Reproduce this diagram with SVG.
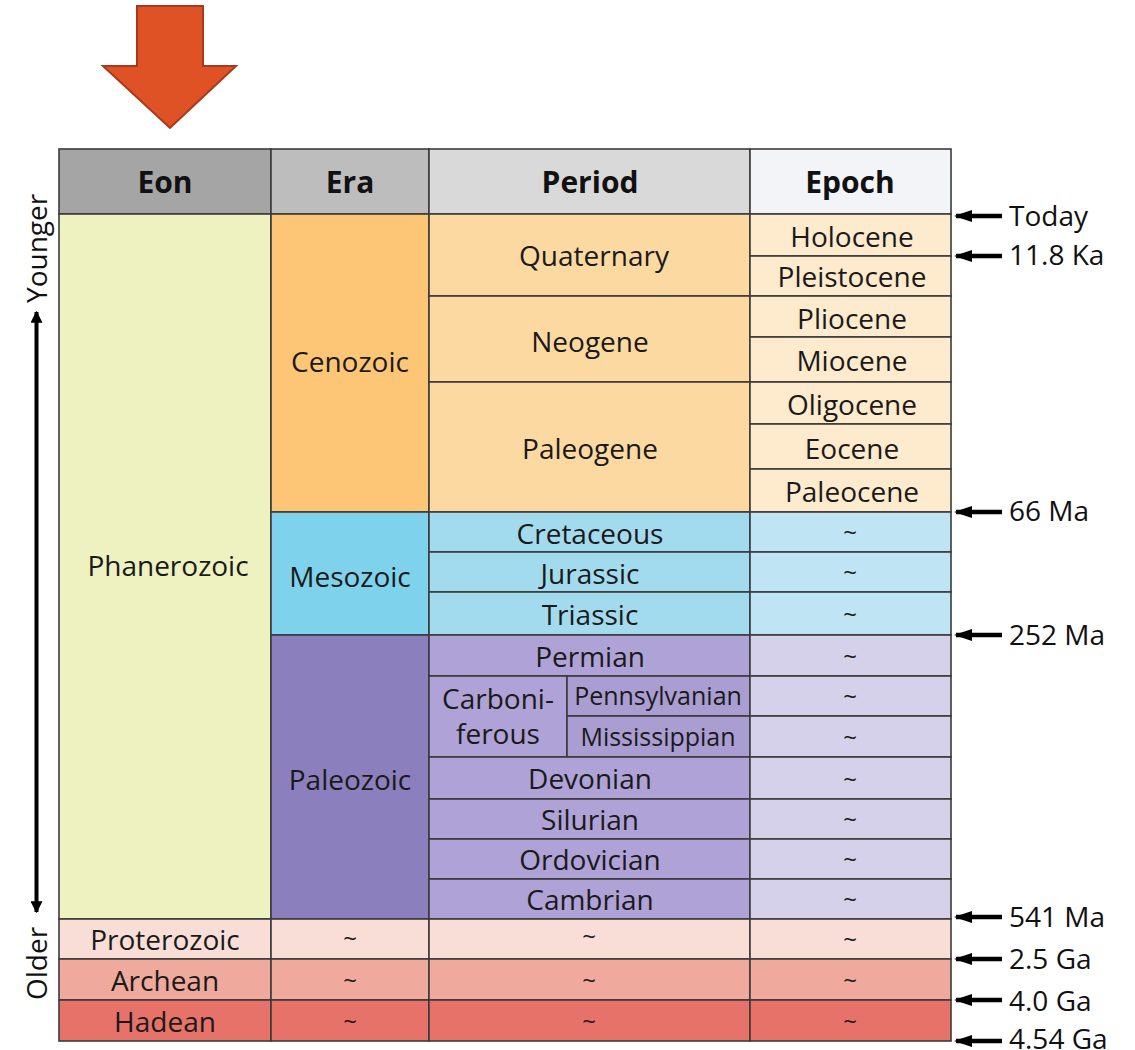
<svg xmlns="http://www.w3.org/2000/svg" width="1135" height="1050" viewBox="0 0 1135 1050">
<defs>
<style>
text{font-family:"Open Sans","Noto Sans","DejaVu Sans",sans-serif;fill:#1a1a1a}
.h{font-size:30px;font-weight:bold;text-anchor:middle;fill:#111}
.t{font-size:28px;text-anchor:middle}
.s{font-size:25px;text-anchor:middle}
.tl{font-size:24px;text-anchor:middle}
.lab{font-size:28px;fill:#111}
.c{stroke:#3b3b3b;stroke-width:1.6}
.axis{stroke:#000;stroke-width:4;fill:none}
.tick{stroke:#000;stroke-width:4.5;fill:none}
</style>
<marker id="ah" viewBox="0 0 18 14" refX="16" refY="7" markerWidth="18" markerHeight="14" markerUnits="userSpaceOnUse" orient="auto">
<path d="M0,1 L18,7 L0,13 Z" fill="#000"/>
</marker>
<marker id="ax" viewBox="0 0 10 10" refX="9" refY="5" markerWidth="6" markerHeight="3" markerUnits="strokeWidth" orient="auto-start-reverse">
<path d="M0,0 L10,5 L0,10 Z" fill="#000"/>
</marker>
</defs>
<rect width="1135" height="1050" fill="#fff"/>

<g id="orange-arrow">
<polygon points="137,6 203,6 203,66 236,66 170,128 103,66 137,66" fill="#df5226" stroke="#a8391a" stroke-width="2"/>
</g>

<g id="header">
<rect class="c" x="59" y="149" width="212" height="65" fill="#a5a5a5"/>
<rect class="c" x="271" y="149" width="158" height="65" fill="#bebdbe"/>
<rect class="c" x="429" y="149" width="321" height="65" fill="#d9d9d9"/>
<rect class="c" x="750" y="149" width="201" height="65" fill="#f2f4f7"/>
<text class="h" x="165" y="193">Eon</text>
<text class="h" x="350" y="193">Era</text>
<text class="h" x="590" y="193">Period</text>
<text class="h" x="850" y="193">Epoch</text>
</g>

<g id="eon-phanerozoic">
<rect class="c" x="59" y="214" width="212" height="705" fill="#eef2c1"/>
<text class="t" x="168" y="576">Phanerozoic</text>
</g>
<g id="eon-proterozoic">
<rect class="c" x="59" y="919" width="212" height="40" fill="#f9ddd7"/>
<text class="t" x="165" y="950">Proterozoic</text>
</g>
<g id="eon-archean">
<rect class="c" x="59" y="959" width="212" height="41" fill="#f0a99d"/>
<text class="t" x="165" y="991">Archean</text>
</g>
<g id="eon-hadean">
<rect class="c" x="59" y="1000" width="212" height="41" fill="#e7726a"/>
<text class="t" x="165" y="1032">Hadean</text>
</g>

<g id="era-cenozoic">
<rect class="c" x="271" y="214" width="158" height="298" fill="#fdc677"/>
<text class="t" x="350" y="372">Cenozoic</text>
</g>
<g id="era-mesozoic">
<rect class="c" x="271" y="512" width="158" height="123" fill="#7fd2ec"/>
<text class="t" x="350" y="587">Mesozoic</text>
</g>
<g id="era-paleozoic">
<rect class="c" x="271" y="635" width="158" height="284" fill="#8c7fbd"/>
<text class="t" x="350" y="790">Paleozoic</text>
</g>
<g id="era-proterozoic">
<rect class="c" x="271" y="919" width="158" height="40" fill="#f9ddd7"/>
<text class="tl" x="350" y="947">~</text>
</g>
<g id="era-archean">
<rect class="c" x="271" y="959" width="158" height="41" fill="#f0a99d"/>
<text class="tl" x="350" y="989">~</text>
</g>
<g id="era-hadean">
<rect class="c" x="271" y="1000" width="158" height="41" fill="#e7726a"/>
<text class="tl" x="350" y="1030">~</text>
</g>

<g id="period-quaternary">
<rect class="c" x="429" y="214" width="321" height="82" fill="#fdd9a2"/>
<text class="t" x="594" y="266">Quaternary</text>
</g>
<g id="period-neogene">
<rect class="c" x="429" y="296" width="321" height="86" fill="#fdd9a2"/>
<text class="t" x="590" y="352">Neogene</text>
</g>
<g id="period-paleogene">
<rect class="c" x="429" y="382" width="321" height="130" fill="#fdd9a2"/>
<text class="t" x="590" y="459">Paleogene</text>
</g>
<g id="period-cretaceous">
<rect class="c" x="429" y="512" width="321" height="40" fill="#a3dbee"/>
<text class="t" x="590" y="544">Cretaceous</text>
</g>
<g id="period-jurassic">
<rect class="c" x="429" y="552" width="321" height="40" fill="#a3dbee"/>
<text class="t" x="590" y="584">Jurassic</text>
</g>
<g id="period-triassic">
<rect class="c" x="429" y="592" width="321" height="43" fill="#a3dbee"/>
<text class="t" x="590" y="625">Triassic</text>
</g>
<g id="period-permian">
<rect class="c" x="429" y="635" width="321" height="41" fill="#aea2d6"/>
<text class="t" x="590" y="667">Permian</text>
</g>
<g id="period-carboniferous">
<rect class="c" x="429" y="676" width="138" height="81" fill="#aea2d6"/>
<text class="t" x="498" y="709">Carboni-</text>
<text class="t" x="498" y="744">ferous</text>
</g>
<g id="period-pennsylvanian">
<rect class="c" x="567" y="676" width="183" height="40" fill="#a99dd1"/>
<text class="s" x="658" y="705">Pennsylvanian</text>
</g>
<g id="period-mississippian">
<rect class="c" x="567" y="716" width="183" height="41" fill="#a99dd1"/>
<text class="s" x="658" y="746">Mississippian</text>
</g>
<g id="period-devonian">
<rect class="c" x="429" y="757" width="321" height="42" fill="#aea2d6"/>
<text class="t" x="590" y="789">Devonian</text>
</g>
<g id="period-silurian">
<rect class="c" x="429" y="799" width="321" height="40" fill="#aea2d6"/>
<text class="t" x="590" y="830">Silurian</text>
</g>
<g id="period-ordovician">
<rect class="c" x="429" y="839" width="321" height="40" fill="#aea2d6"/>
<text class="t" x="590" y="870">Ordovician</text>
</g>
<g id="period-cambrian">
<rect class="c" x="429" y="879" width="321" height="40" fill="#aea2d6"/>
<text class="t" x="590" y="910">Cambrian</text>
</g>
<g id="period-proterozoic">
<rect class="c" x="429" y="919" width="321" height="40" fill="#f9ddd7"/>
<text class="tl" x="589" y="945">~</text>
</g>
<g id="period-archean">
<rect class="c" x="429" y="959" width="321" height="41" fill="#f0a99d"/>
<text class="tl" x="589" y="989">~</text>
</g>
<g id="period-hadean">
<rect class="c" x="429" y="1000" width="321" height="41" fill="#e7726a"/>
<text class="tl" x="589" y="1030">~</text>
</g>

<g id="epoch-holocene"><rect class="c" x="750" y="214" width="201" height="42" fill="#feeacd"/><text class="t" x="852" y="247">Holocene</text></g>
<g id="epoch-pleistocene"><rect class="c" x="750" y="256" width="201" height="40" fill="#feeacd"/><text class="t" x="852" y="287">Pleistocene</text></g>
<g id="epoch-pliocene"><rect class="c" x="750" y="296" width="201" height="41" fill="#feeacd"/><text class="t" x="852" y="329">Pliocene</text></g>
<g id="epoch-miocene"><rect class="c" x="750" y="337" width="201" height="45" fill="#feeacd"/><text class="t" x="852" y="371">Miocene</text></g>
<g id="epoch-oligocene"><rect class="c" x="750" y="382" width="201" height="42" fill="#feeacd"/><text class="t" x="852" y="415">Oligocene</text></g>
<g id="epoch-eocene"><rect class="c" x="750" y="424" width="201" height="45" fill="#feeacd"/><text class="t" x="852" y="459">Eocene</text></g>
<g id="epoch-paleocene"><rect class="c" x="750" y="469" width="201" height="43" fill="#feeacd"/><text class="t" x="852" y="502">Paleocene</text></g>
<g id="epoch-cretaceous"><rect class="c" x="750" y="512" width="201" height="40" fill="#bfe5f4"/><text class="tl" x="850" y="541">~</text></g>
<g id="epoch-jurassic"><rect class="c" x="750" y="552" width="201" height="40" fill="#bfe5f4"/><text class="tl" x="850" y="581">~</text></g>
<g id="epoch-triassic"><rect class="c" x="750" y="592" width="201" height="43" fill="#bfe5f4"/><text class="tl" x="850" y="623">~</text></g>
<g id="epoch-permian"><rect class="c" x="750" y="635" width="201" height="41" fill="#d6d1ea"/><text class="tl" x="850" y="665">~</text></g>
<g id="epoch-pennsylvanian"><rect class="c" x="750" y="676" width="201" height="40" fill="#d6d1ea"/><text class="tl" x="850" y="705">~</text></g>
<g id="epoch-mississippian"><rect class="c" x="750" y="716" width="201" height="41" fill="#d6d1ea"/><text class="tl" x="850" y="746">~</text></g>
<g id="epoch-devonian"><rect class="c" x="750" y="757" width="201" height="42" fill="#d6d1ea"/><text class="tl" x="850" y="788">~</text></g>
<g id="epoch-silurian"><rect class="c" x="750" y="799" width="201" height="40" fill="#d6d1ea"/><text class="tl" x="850" y="828">~</text></g>
<g id="epoch-ordovician"><rect class="c" x="750" y="839" width="201" height="40" fill="#d6d1ea"/><text class="tl" x="850" y="868">~</text></g>
<g id="epoch-cambrian"><rect class="c" x="750" y="879" width="201" height="40" fill="#d6d1ea"/><text class="tl" x="850" y="908">~</text></g>
<g id="epoch-proterozoic"><rect class="c" x="750" y="919" width="201" height="40" fill="#f9ddd7"/><text class="tl" x="850" y="948">~</text></g>
<g id="epoch-archean"><rect class="c" x="750" y="959" width="201" height="41" fill="#f0a99d"/><text class="tl" x="850" y="989">~</text></g>
<g id="epoch-hadean"><rect class="c" x="750" y="1000" width="201" height="41" fill="#e7726a"/><text class="tl" x="850" y="1030">~</text></g>

<g id="axis-labels">
<text class="lab" transform="translate(47,303) rotate(-90)">Younger</text>
<text class="lab" transform="translate(47,1000) rotate(-90)">Older</text>
</g>

<g id="time-labels">
<text class="lab" x="1009" y="226">Today</text>
<text class="lab" x="1009" y="265">11.8 Ka</text>
<text class="lab" x="1009" y="521">66 Ma</text>
<text class="lab" x="1009" y="645">252 Ma</text>
<text class="lab" x="1009" y="927">541 Ma</text>
<text class="lab" x="1009" y="969">2.5 Ga</text>
<text class="lab" x="1009" y="1011">4.0 Ga</text>
<text class="lab" x="1009" y="1049">4.54 Ga</text>
</g>

<g id="connectors">
<line class="axis" x1="36.5" y1="312" x2="36.5" y2="912" marker-start="url(#ax)" marker-end="url(#ax)"/>
<line class="tick" x1="1002" y1="216" x2="956" y2="216" marker-end="url(#ah)"/>
<line class="tick" x1="1002" y1="256" x2="956" y2="256" marker-end="url(#ah)"/>
<line class="tick" x1="1002" y1="512" x2="956" y2="512" marker-end="url(#ah)"/>
<line class="tick" x1="1002" y1="635" x2="956" y2="635" marker-end="url(#ah)"/>
<line class="tick" x1="1002" y1="917" x2="956" y2="917" marker-end="url(#ah)"/>
<line class="tick" x1="1002" y1="959" x2="956" y2="959" marker-end="url(#ah)"/>
<line class="tick" x1="1002" y1="1000" x2="956" y2="1000" marker-end="url(#ah)"/>
<line class="tick" x1="1002" y1="1041" x2="956" y2="1041" marker-end="url(#ah)"/>
</g>
</svg>
